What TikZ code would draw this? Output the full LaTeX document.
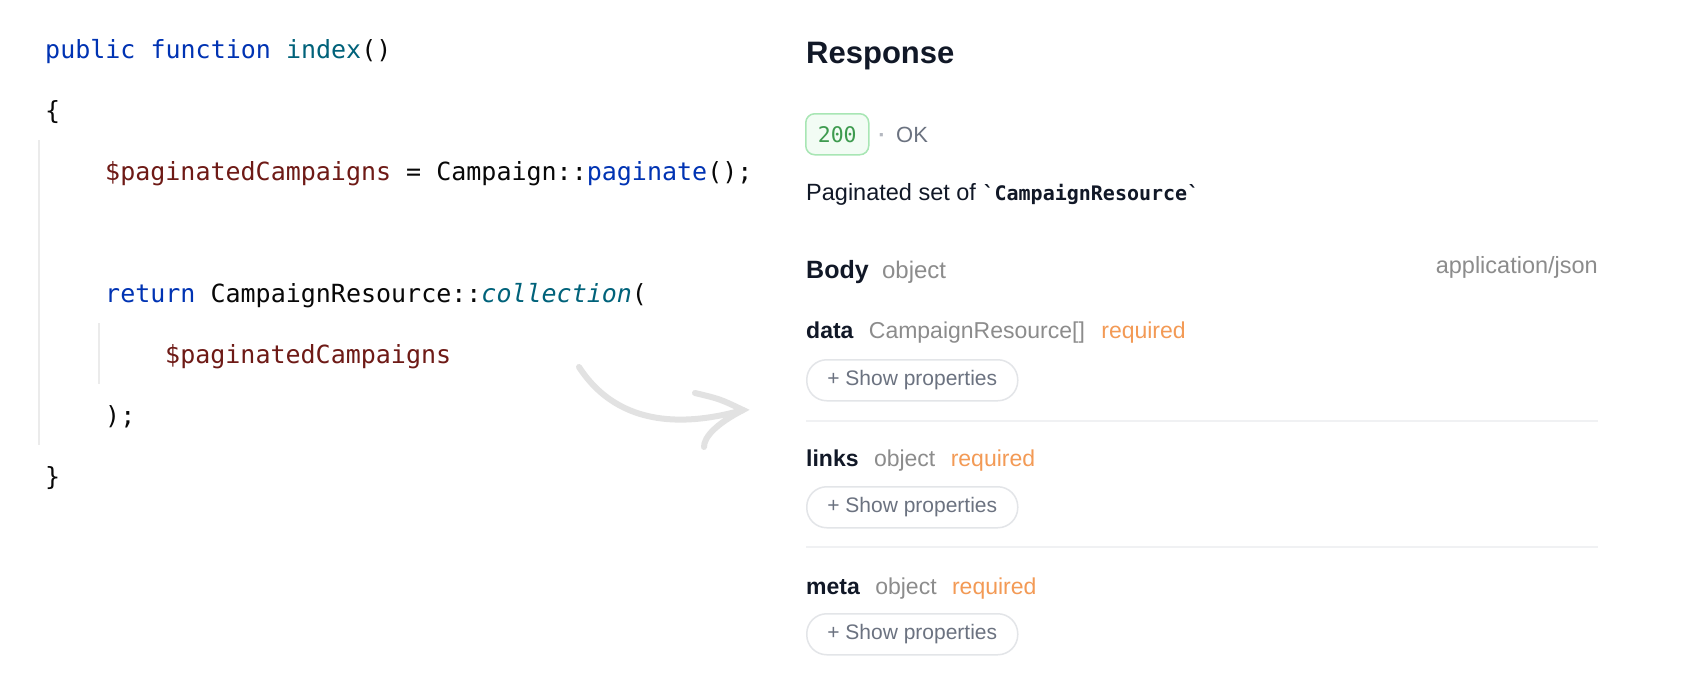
\documentclass[tikz,border=0pt]{standalone}
\usepackage{fontspec}
\setmainfont{Liberation Sans}
\newfontfamily\codefont{DejaVu Sans Mono}
\usetikzlibrary{positioning}

\definecolor{kwblue}{HTML}{0033B3}
\definecolor{fnteal}{HTML}{00627A}
\definecolor{varred}{HTML}{6E1A16}
\definecolor{plain}{HTML}{080808}
\definecolor{guideline}{HTML}{EBEBEB}
\definecolor{heading}{HTML}{111827}
\definecolor{typegray}{HTML}{8C8C8C}
\definecolor{reqorange}{HTML}{F39A55}
\definecolor{btntext}{HTML}{6B7280}
\definecolor{btnborder}{HTML}{E3E5E8}
\definecolor{sepline}{HTML}{F0F1F3}
\definecolor{dotgray}{HTML}{B4B8C0}
\definecolor{okgreen}{HTML}{3E9B4F}
\definecolor{badgeborder}{HTML}{A8E6B4}
\definecolor{badgefill}{HTML}{F2FCF4}
\definecolor{arrowgray}{HTML}{E2E2E2}

\tikzset{
  code/.style={anchor=base west, inner sep=0, text=plain,
    font=\codefont\fontsize{25}{30}\selectfont},
  guide/.style={draw=guideline, line width=1.5pt},
  field/.style={anchor=base west, inner sep=0, font=\fontsize{23}{28}\selectfont},
  fname/.style={field, text=heading, font=\bfseries\fontsize{23}{28}\selectfont},
  ftype/.style={field, text=typegray},
  freq/.style={field, text=reqorange},
  showbtn/.style={draw=btnborder, line width=1.5pt, rounded corners=20pt,
    anchor=north west, minimum width=211pt, minimum height=41pt, inner sep=0,
    text=btntext, font=\fontsize{21}{25}\selectfont},
  sep/.style={draw=sepline, line width=1.5pt},
  swoosh/.style={draw=arrowgray, line width=6pt, line cap=round}
}

\begin{document}
\begin{tikzpicture}[x=1pt,y=-1pt]
    \fill[white] (0,0) rectangle (1692,689);

    % code on the left
    \draw[guide] (39,140) -- (39,445);
    \draw[guide] (99,323) -- (99,384);
    \node[code] (line1) at (45,58) {\textcolor{kwblue}{public function} \textcolor{fnteal}{index}()};
    \node[code] (line2) at (45,119) {\{};
    \node[code] (line3) at (105,180) {\textcolor{varred}{\$paginatedCampaigns} = Campaign::\textcolor{kwblue}{paginate}();};
    \node[code] (line5) at (105,302) {\textcolor{kwblue}{return} CampaignResource::\textcolor{fnteal}{\itshape collection}(};
    \node[code] (line6) at (165,363) {\textcolor{varred}{\$paginatedCampaigns}};
    \node[code] (line7) at (105,424) {);};
    \node[code] (line8) at (45,485) {\}};

    % arrow
    \coordinate (swooshstart) at (579,367);
    \coordinate (swooshtip) at (743,410);
    \draw[swoosh] (swooshstart) .. controls (620,430) and (690,425) .. (swooshtip);
    \draw[swoosh] (695,393) .. controls (720,399) .. (swooshtip) .. controls (716,424) and (704,437) .. (704,447);

    % response panel
    \node[anchor=base west, inner sep=0, text=heading, font=\bfseries\fontsize{31}{36}\selectfont] (resp) at (806,63) {Response};
    \node[draw=badgeborder, fill=badgefill, line width=1.5pt, rounded corners=9pt, anchor=north west,
      minimum width=63pt, minimum height=41pt, inner sep=0, text=okgreen,
      font=\codefont\fontsize{21.5}{25}\selectfont] (status) at (805,113) {200};
    \node[anchor=base, inner sep=0, text=dotgray, font=\bfseries\fontsize{22}{26}\selectfont] (dot) at (882,142) {·};
    \node[anchor=base west, inner sep=0, text=btntext, font=\fontsize{22}{26}\selectfont] (ok) at (896,142) {OK};
    \node[anchor=base west, inner sep=0, text=heading, font=\fontsize{23.5}{28}\selectfont] (desc) at (806,200)
      {Paginated set of {\codefont\bfseries\fontsize{20}{24}\selectfont\textasciigrave CampaignResource\textasciigrave}};

    \node[anchor=base west, inner sep=0, text=heading, font=\bfseries\fontsize{25}{30}\selectfont] (body) at (806,278) {Body};
    \node[ftype, base right=13pt of body, font=\fontsize{24}{28}\selectfont] (bodytype) {object};
    \node[anchor=base east, inner sep=0, text=typegray, font=\fontsize{23.5}{28}\selectfont] (mime) at (1598,273) {application/json};

    % fields
    \node[fname] (dataname) at (806,338) {data};
    \node[ftype, base right=15pt of dataname] (datatype) {CampaignResource[]};
    \node[freq, base right=16pt of datatype] (datareq) {required};
    \node[showbtn] (databtn) at (806,359) {+ Show properties};
    \draw[sep] (806,421) -- (1598,421);

    \node[fname] (linksname) at (806,466) {links};
    \node[ftype, base right=15pt of linksname] (linkstype) {object};
    \node[freq, base right=15pt of linkstype] (linksreq) {required};
    \node[showbtn] (linksbtn) at (806,486) {+ Show properties};
    \draw[sep] (806,547) -- (1598,547);

    \node[fname] (metaname) at (806,594) {meta};
    \node[ftype, base right=15pt of metaname] (metatype) {object};
    \node[freq, base right=15pt of metatype] (metareq) {required};
    \node[showbtn] (metabtn) at (806,613) {+ Show properties};
\end{tikzpicture}
\end{document}
